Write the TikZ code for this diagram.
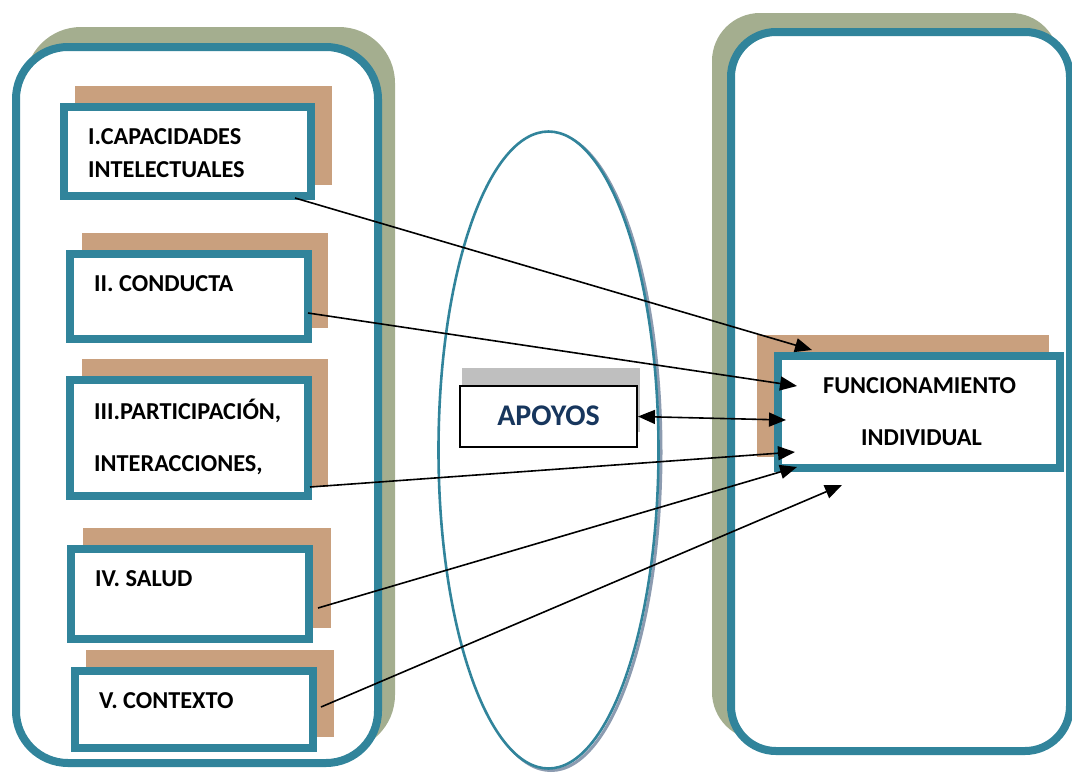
\documentclass[tikz,border=0pt]{standalone}
\usepackage{fontspec}
\setmainfont{Carlito}[BoldFont={Carlito Bold}]
\usetikzlibrary{arrows.meta,shapes.geometric}

\definecolor{frameblue}{HTML}{31849B}
\definecolor{panelgreen}{HTML}{A4AE8F}
\definecolor{tanbrown}{HTML}{C9A07E}
\definecolor{softgray}{HTML}{BFBFBF}
\definecolor{navytext}{HTML}{17365D}
\definecolor{ringshade}{HTML}{8C9BB0}

\begin{document}
\begin{tikzpicture}[x=1pt,y=-1pt,
  panelshade/.style={fill=panelgreen, draw=none, rounded corners=#1, inner sep=0pt, outer sep=0pt},
  panelframe/.style={draw=frameblue, fill=white, line width=8pt, rounded corners=#1, inner sep=0pt, outer sep=0pt},
  tanshadow/.style={fill=tanbrown, draw=none, inner sep=0pt, outer sep=0pt},
  factorbox/.style={draw=frameblue, fill=white, line width=8pt, inner sep=0pt, outer sep=0pt},
  factortext/.style={font=\bfseries\fontsize{24.3}{29}\selectfont, anchor=base west, inner sep=0pt},
  linkarrow/.style={line width=1.6pt, -{Triangle[length=17pt,width=14pt]}},
]
\useasboundingbox (0,0) rectangle (1072,774);
\clip (0,0) rectangle (1072,774);

% ---- left panel with the five dimensions ----
\node[panelshade=56pt, minimum width=370pt, minimum height=724pt] (leftshade) at (210,389) {};
\node[panelframe=52pt, minimum width=362pt, minimum height=716pt] (leftpanel) at (197,405) {};

\node[tanshadow, minimum width=257pt, minimum height=99pt]  (t1) at (203.5,135.5) {};
\node[tanshadow, minimum width=246pt, minimum height=95pt]  (t2) at (205,280.5) {};
\node[tanshadow, minimum width=246pt, minimum height=128pt] (t3) at (205,423) {};
\node[tanshadow, minimum width=248pt, minimum height=100pt] (t4) at (207,578) {};
\node[tanshadow, minimum width=248pt, minimum height=87pt]  (t5) at (210,693.5) {};

\node[factorbox, minimum width=247pt, minimum height=89pt]  (b1) at (187.5,151.5) {};
\node[factorbox, minimum width=238pt, minimum height=85pt]  (b2) at (189,296.5) {};
\node[factorbox, minimum width=238pt, minimum height=116pt] (b3) at (189,438) {};
\node[factorbox, minimum width=238pt, minimum height=90pt]  (b4) at (190,594) {};
\node[factorbox, minimum width=238pt, minimum height=77pt]  (b5) at (194,709.5) {};

\node[factortext] (l1a) at (88,144) {I.CAPACIDADES};
\node[factortext] (l1b) at (88,177) {INTELECTUALES};
\node[factortext] (l2)  at (94,291) {II. CONDUCTA};
\node[factortext] (l3a) at (94,419) {III.PARTICIPACIÓN,};
\node[factortext] (l3b) at (94,471) {INTERACCIONES,};
\node[factortext] (l4)  at (95,586) {IV. SALUD};
\node[factortext] (l5)  at (99,708) {V. CONTEXTO};

% ---- right panel ----
\node[panelshade=48pt, minimum width=347pt, minimum height=727pt] (rightshade) at (885.5,376.5) {};
\node[panelframe=45pt, minimum width=339pt, minimum height=719pt] (rightpanel) at (900.5,391.5) {};

\node[tanshadow, minimum width=292pt, minimum height=122pt] (tf) at (903,396) {};
\node[factorbox, minimum width=282pt, minimum height=112pt] (fi) at (919,412) {};
\node[factortext] (lfa) at (823,393) {FUNCIONAMIENTO};
\node[factortext] (lfb) at (861,445) {INDIVIDUAL};

% ---- supports ring (soft shade on the lower right) ----
\node[ellipse, draw=ringshade, line width=3pt, minimum width=220pt, minimum height=637pt, inner sep=0pt] (ringshadow) at (551,452) {};
\node[ellipse, draw=frameblue, fill=white, line width=2.6pt, minimum width=220pt, minimum height=637pt, inner sep=0pt] (ring) at (548.5,450) {};

\node[fill=softgray, inner sep=0pt, minimum width=178pt, minimum height=64pt] (apshade) at (551,400) {};
\node[draw=black, fill=white, line width=2pt, inner sep=0pt, minimum width=177pt, minimum height=61pt] (apoyos) at (548.5,416.5) {};
\node[font=\bfseries\fontsize{30}{34}\selectfont, text=navytext, anchor=base, inner sep=0pt] (aptext) at (548.5,425) {APOYOS};

% ---- connector ends ----
\coordinate (s1) at (295,198);
\coordinate (s2) at (308,313);
\coordinate (s3) at (310,487);
\coordinate (s4) at (318,608);
\coordinate (s5) at (321,707);
\coordinate (e1) at (812,350);
\coordinate (e2) at (797,386);
\coordinate (e3) at (795,452);
\coordinate (e4) at (797,467);
\coordinate (e5) at (842,485);
\coordinate (ea) at (786,420);

\draw[linkarrow] (s1) -- (e1);
\draw[linkarrow] (s2) -- (e2);
\draw[linkarrow] (s3) -- (e3);
\draw[linkarrow] (s4) -- (e4);
\draw[linkarrow] (s5) -- (e5);
\draw[line width=1.6pt, {Triangle[length=17pt,width=14pt]}-{Triangle[length=17pt,width=14pt]}] (apoyos.east) -- (ea);
\end{tikzpicture}
\end{document}
